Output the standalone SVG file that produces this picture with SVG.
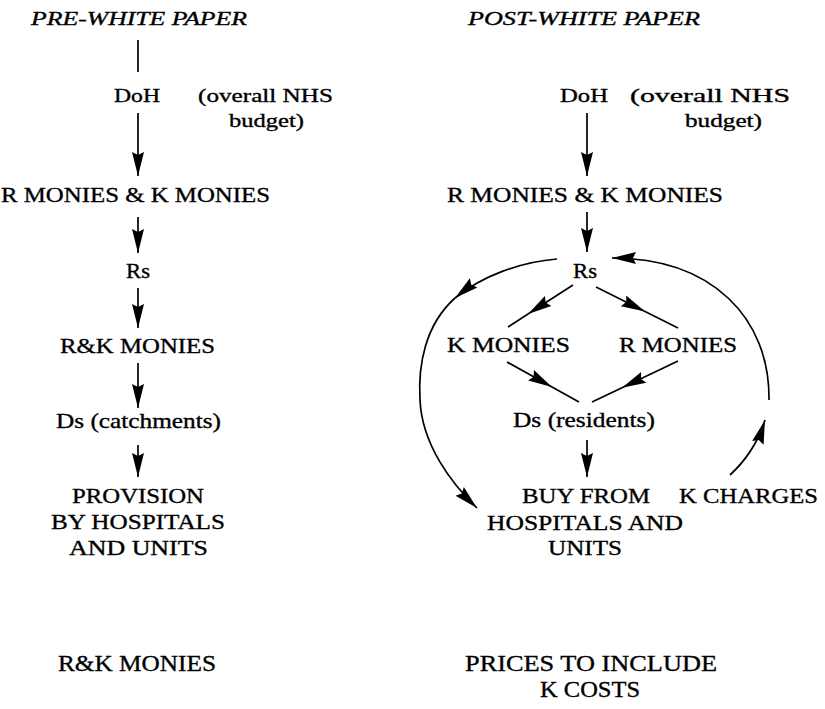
<svg xmlns="http://www.w3.org/2000/svg" width="825" height="709" viewBox="0 0 825 709">
<defs>
<marker id="ah" markerUnits="userSpaceOnUse" markerWidth="26" markerHeight="13" refX="24" refY="6" orient="auto" overflow="visible">
<path d="M0,0 L24,6 L0,12 L3,6 Z" fill="#000"/>
</marker>
</defs>
<style>
text{font-family:"Liberation Serif","Times New Roman",serif;fill:#000;stroke:#000;stroke-width:0.35;}
.t{font-size:19px;font-style:italic;}
.s{font-size:19px;}
.m{font-size:22px;}
.b{font-size:24px;}
.c{fill:none;stroke:#000;stroke-width:1.7;}
.a{marker-end:url(#ah);}
.mm{marker-mid:url(#ah);}
</style>
<rect width="825" height="709" fill="#fff"/>
<g id="titles">
<text class="t" x="31" y="25" textLength="216" lengthAdjust="spacingAndGlyphs">PRE-WHITE PAPER</text>
<text class="t" x="468" y="25" textLength="232" lengthAdjust="spacingAndGlyphs">POST-WHITE PAPER</text>
</g>
<g id="connectors">
<path class="c" d="M138,40 L138,72"/>
<path class="c a" d="M138,113 L138,176"/>
<path class="c a" d="M138,217 L138,253"/>
<path class="c a" d="M138,288 L138,328"/>
<path class="c a" d="M138,363 L138,408"/>
<path class="c a" d="M138,445 L138,477"/>
<path class="c a" d="M587,113 L587,176"/>
<path class="c a" d="M587,212 L587,252"/>
<path class="c a" d="M587,440 L587,477"/>
<path class="c mm" d="M573,285 L528,314 L508,327"/>
<path class="c mm" d="M596,287 L645,311.5 L678,328"/>
<path class="c mm" d="M507,362 L552,387 L579,402"/>
<path class="c mm" d="M678,361 L622,387.7 L592,402"/>
<path class="c a" d="M557,259 C520,262 482,276 455,298"/>
<path class="c a" d="M455,298 C425,325 418,365 420,400 C422,445 452,484 477,508"/>
<path class="c a" d="M730,475 Q755,452 765,420"/>
<path class="c a" d="M769,400 C770,318 712,258 612,258"/>
</g>
<g id="pre-doh">
<text class="s" x="114" y="102" textLength="46" lengthAdjust="spacingAndGlyphs">DoH</text>
<text class="s" x="198" y="102" textLength="135" lengthAdjust="spacingAndGlyphs">(overall NHS</text>
<text class="s" x="229" y="127" textLength="75" lengthAdjust="spacingAndGlyphs">budget)</text>
</g>
<g id="pre-monies">
<text class="m" x="1" y="202" textLength="269" lengthAdjust="spacingAndGlyphs">R MONIES &amp; K MONIES</text>
</g>
<g id="pre-rs">
<text class="m" x="126" y="278" textLength="24" lengthAdjust="spacingAndGlyphs">Rs</text>
</g>
<g id="pre-rk">
<text class="m" x="60" y="353" textLength="155" lengthAdjust="spacingAndGlyphs">R&amp;K MONIES</text>
</g>
<g id="pre-ds">
<text class="m" x="56" y="428" textLength="165" lengthAdjust="spacingAndGlyphs">Ds (catchments)</text>
</g>
<g id="pre-provision">
<text class="m" x="72" y="503" textLength="132" lengthAdjust="spacingAndGlyphs">PROVISION</text>
<text class="m" x="51" y="529" textLength="174" lengthAdjust="spacingAndGlyphs">BY HOSPITALS</text>
<text class="m" x="69" y="555" textLength="139" lengthAdjust="spacingAndGlyphs">AND UNITS</text>
</g>
<g id="pre-footer">
<text class="b" x="58" y="671" textLength="158" lengthAdjust="spacingAndGlyphs">R&amp;K MONIES</text>
</g>
<g id="post-doh">
<text class="s" x="560" y="102" textLength="48" lengthAdjust="spacingAndGlyphs">DoH</text>
<text class="s" x="630" y="102" textLength="160" lengthAdjust="spacingAndGlyphs">(overall NHS</text>
<text class="s" x="685" y="127" textLength="77" lengthAdjust="spacingAndGlyphs">budget)</text>
</g>
<g id="post-monies">
<text class="m" x="447" y="202" textLength="276" lengthAdjust="spacingAndGlyphs">R MONIES &amp; K MONIES</text>
</g>
<g id="post-rs">
<text class="m" x="573" y="278" textLength="24" lengthAdjust="spacingAndGlyphs">Rs</text>
</g>
<g id="post-k-monies">
<text class="m" x="447" y="352" textLength="123" lengthAdjust="spacingAndGlyphs">K MONIES</text>
</g>
<g id="post-r-monies">
<text class="m" x="619" y="352" textLength="118" lengthAdjust="spacingAndGlyphs">R MONIES</text>
</g>
<g id="post-ds">
<text class="m" x="513" y="427" textLength="142" lengthAdjust="spacingAndGlyphs">Ds (residents)</text>
</g>
<g id="post-buy">
<text class="m" x="522" y="503" textLength="128" lengthAdjust="spacingAndGlyphs">BUY FROM</text>
<text class="m" x="487" y="530" textLength="196" lengthAdjust="spacingAndGlyphs">HOSPITALS AND</text>
<text class="m" x="548" y="555" textLength="74" lengthAdjust="spacingAndGlyphs">UNITS</text>
</g>
<g id="post-k-charges">
<text class="m" x="679" y="503" textLength="139" lengthAdjust="spacingAndGlyphs">K CHARGES</text>
</g>
<g id="post-footer">
<text class="b" x="465" y="671" textLength="252" lengthAdjust="spacingAndGlyphs">PRICES TO INCLUDE</text>
<text class="b" x="540" y="697" textLength="100" lengthAdjust="spacingAndGlyphs">K COSTS</text>
</g>
</svg>
